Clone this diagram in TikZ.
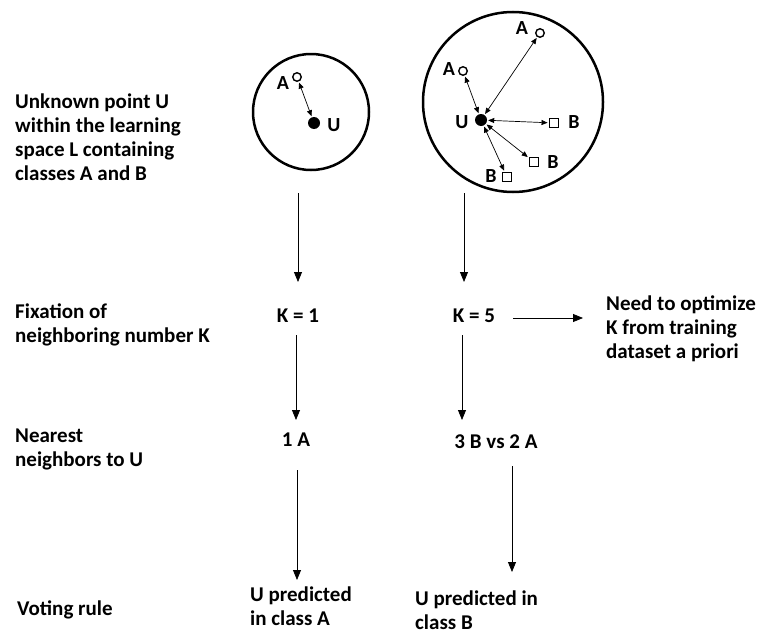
\documentclass[tikz,border=0pt]{standalone}
\usepackage{fontspec}
\setmainfont{Carlito}
\usetikzlibrary{arrows.meta,positioning}
\tikzset{
  steplabel/.style={anchor=west,align=left,inner sep=0pt,
    font=\fontsize{21}{24}\selectfont\bfseries},
  valuelabel/.style={align=left,inner sep=0pt,
    font=\fontsize{21}{24}\selectfont\bfseries},
  pointlabel/.style={inner sep=0pt,font=\fontsize{20}{22}\selectfont\bfseries},
  flowarrow/.style={-{Triangle[length=10pt,width=8pt]},line width=0.8pt},
  nnarrow/.style={{Triangle[length=6pt,width=5pt]}-{Triangle[length=6pt,width=5pt]},
    line width=0.7pt,shorten <=1pt,shorten >=1pt},
  spacecircle/.style={draw,circle,line width=2.5pt,inner sep=0pt},
  apoint/.style={draw,circle,line width=1.4pt,minimum size=8.5pt,inner sep=0pt},
  bpoint/.style={draw,rectangle,line width=1.4pt,minimum size=9.5pt,inner sep=0pt},
  upoint/.style={fill,circle,minimum size=12pt,inner sep=0pt}
}

\begin{document}
\begin{tikzpicture}[x=1pt,y=-1pt]
  \useasboundingbox (0,0) rectangle (763,637);
  % row labels
  \node[steplabel] (lspace) at (15,137) {Unknown point U\\within the learning\\space L containing\\classes A and B};
  \node[steplabel] (lfix) at (15,325) {Fixation of\\neighboring number K};
  \node[steplabel] (lnear) at (15,449) {Nearest\\neighbors to U};
  \node[steplabel] (lvote) at (17,610) {Voting rule};
  % K = 1 space
  \node[spacecircle,minimum size=116pt] (s1) at (311,112) {};
  \node[upoint] (u1) at (314,123) {};
  \node[pointlabel] (u1l) at (334,125) {U};
  \node[apoint] (a1) at (297,77) {};
  \node[pointlabel] (a1l) at (283,83) {A};
  \draw[nnarrow] (a1) -- (u1);
  % K = 5 space
  \node[spacecircle,minimum size=180pt] (s2) at (513,102) {};
  \node[upoint] (u2) at (481,120) {};
  \node[pointlabel] (u2l) at (462,122) {U};
  \node[apoint] (a2) at (540,33) {};
  \node[pointlabel] (a2l) at (522,28) {A};
  \node[apoint] (a3) at (463,71) {};
  \node[pointlabel] (a3l) at (449,69) {A};
  \node[bpoint] (b1) at (554,123) {};
  \node[pointlabel] (b1l) at (574,122) {B};
  \node[bpoint] (b2) at (534,162) {};
  \node[pointlabel] (b2l) at (553,162) {B};
  \node[bpoint] (b3) at (507,177) {};
  \node[pointlabel] (b3l) at (491,176) {B};
  \foreach \p in {a2,a3,b1,b2,b3}
    \draw[nnarrow] (u2) -- (\p);
  % values
  \node[valuelabel] (k1) at (298,316) {K = 1};
  \node[valuelabel] (k5) at (474,316) {K = 5};
  \node[steplabel] (kopt) at (606,329) {Need to optimize\\K from training\\dataset a priori};
  \node[valuelabel] (n1) at (296,440) {1 A};
  \node[valuelabel] (n5) at (496,442) {3 B vs 2 A};
  \node[steplabel] (v1) at (250,606) {U predicted\\in class A};
  \node[steplabel] (v5) at (415,610) {U predicted in\\class B};
  % connectors
  \coordinate (f1) at (298,193);
  \coordinate (f1e) at (298,282);
  \coordinate (f2) at (464,193);
  \coordinate (f2e) at (464,282);
  \coordinate (g1) at (296,335);
  \coordinate (g1e) at (296,420);
  \coordinate (g2) at (462,335);
  \coordinate (g2e) at (462,420);
  \coordinate (h1) at (297,470);
  \coordinate (h1e) at (297,580);
  \coordinate (h2) at (512,466);
  \coordinate (h2e) at (512,572);
  \coordinate (k5r) at (513,318);
  \coordinate (k5re) at (583,318);
  \draw[flowarrow] (f1) -- (f1e);
  \draw[flowarrow] (f2) -- (f2e);
  \draw[flowarrow] (g1) -- (g1e);
  \draw[flowarrow] (g2) -- (g2e);
  \draw[flowarrow] (h1) -- (h1e);
  \draw[flowarrow] (h2) -- (h2e);
  \draw[flowarrow] (k5r) -- (k5re);
\end{tikzpicture}
\end{document}
